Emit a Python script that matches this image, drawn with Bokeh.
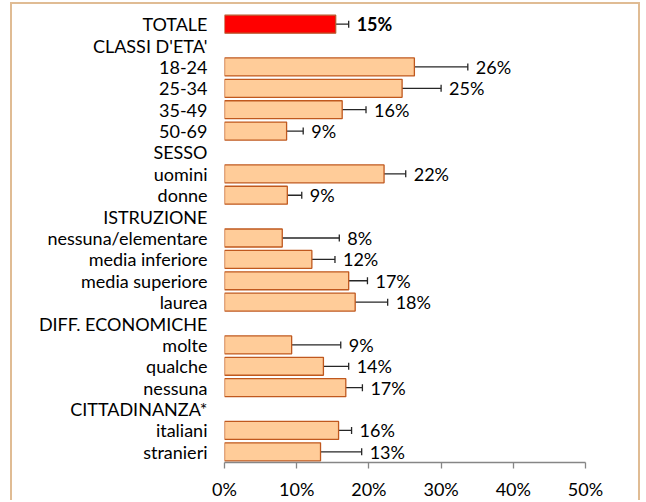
from bokeh.plotting import figure
from bokeh.models import ColumnDataSource, FactorRange, Range1d, FixedTicker, Whisker, TeeHead
from bokeh.core.properties import value
from bokeh.embed import file_html
from bokeh.resources import INLINE

# rows top to bottom (section header rows have no bar)
categories = ["TOTALE", "CLASSI D'ETA'", "18-24", "25-34", "35-49", "50-69",
              "SESSO", "uomini", "donne",
              "ISTRUZIONE", "nessuna/elementare", "media inferiore", "media superiore", "laurea",
              "DIFF. ECONOMICHE", "molte", "qualche", "nessuna",
              "CITTADINANZA*", "italiani", "stranieri"]

bar_cats = ["TOTALE", "18-24", "25-34", "35-49", "50-69", "uomini", "donne",
            "nessuna/elementare", "media inferiore", "media superiore", "laurea",
            "molte", "qualche", "nessuna", "italiani", "stranieri"]
values = [15.4, 26.3, 24.6, 16.3, 8.6, 22.1, 8.7,
          8.0, 12.1, 17.2, 18.1,
          9.3, 13.7, 16.8, 15.8, 13.3]
ci_low = [13.9, 20.0, 19.8, 13.5, 6.8, 19.6, 7.0,
          3.8, 9.5, 14.7, 14.3,
          5.2, 10.9, 14.8, 14.0, 9.1]
ci_high = [17.2, 33.7, 30.0, 19.6, 10.9, 25.1, 10.7,
           15.9, 15.3, 19.8, 22.6,
           16.1, 17.2, 19.1, 17.6, 19.0]
value_labels = ["15%", "26%", "25%", "16%", "9%", "22%", "9%",
                "8%", "12%", "17%", "18%",
                "9%", "14%", "17%", "16%", "13%"]
x_ticks = [0, 10, 20, 30, 40, 50]
x_tick_labels = ["0%", "10%", "20%", "30%", "40%", "50%"]

FONT = "Lato"
FS = "18px"

fills = ["#FF0000" if c == "TOTALE" else "#FFCC99" for c in bar_cats]
lines = ["#B8562A" if c == "TOTALE" else "#C0581E" for c in bar_cats]
styles = ["bold" if c == "TOTALE" else "normal" for c in bar_cats]

src = ColumnDataSource(dict(cat=bar_cats, val=values, lo=ci_low, hi=ci_high,
                            lbl=value_labels, fill=fills, line=lines, style=styles))

p = figure(width=630, height=498, output_backend="svg", toolbar_location=None,
           y_range=FactorRange(factors=list(reversed(categories)), range_padding=0),
           x_range=Range1d(0, 50),
           min_border_left=212, min_border_right=57, min_border_top=9, min_border_bottom=37,
           styles={"border-top": "2px solid #E0BC94", "border-left": "2px solid #E0BC94",
                   "border-right": "2px solid #E0BC94", "margin": "2px 0 0 10px"})

p.hbar(y="cat", left=0, right="val", height=0.84, source=src,
       fill_color="fill", line_color="line", line_width=1.3)

w = Whisker(source=src, base="cat", lower="lo", upper="hi", dimension="width",
            line_color="#262626", line_width=1.3,
            upper_head=TeeHead(size=7, line_color="#262626", line_width=1.3),
            lower_head=TeeHead(size=7, line_color="#262626", line_width=1.3))
p.add_layout(w)

p.text(x="hi", y="cat", text="lbl", source=src, x_offset=8,
       text_baseline="middle", text_align="left",
       text_font=value(FONT), text_font_size=FS, text_font_style="style",
       text_color="#000000")

p.grid.visible = False
p.outline_line_color = None
p.background_fill_color = "white"
p.border_fill_color = "white"

xa = p.xaxis[0]
xa.ticker = FixedTicker(ticks=x_ticks)
xa.major_label_overrides = {t: l for t, l in zip(x_ticks, x_tick_labels)}
xa.axis_line_color = "#868686"
xa.axis_line_width = 1.3
xa.major_tick_line_color = "#868686"
xa.major_tick_line_width = 1.3
xa.major_tick_in = 0
xa.major_tick_out = 6
xa.minor_tick_line_color = None
xa.major_label_standoff = 9
xa.major_label_text_font = FONT
xa.major_label_text_font_size = FS
xa.major_label_text_color = "#000000"

ya = p.yaxis[0]
ya.axis_line_color = None
ya.major_tick_line_color = None
ya.minor_tick_line_color = None
ya.major_tick_out = 0
ya.major_tick_in = 0
ya.major_label_standoff = 17
ya.major_label_text_font = FONT
ya.major_label_text_font_size = FS
ya.major_label_text_color = "#000000"

open("out.html", "w").write(file_html(p, INLINE))
